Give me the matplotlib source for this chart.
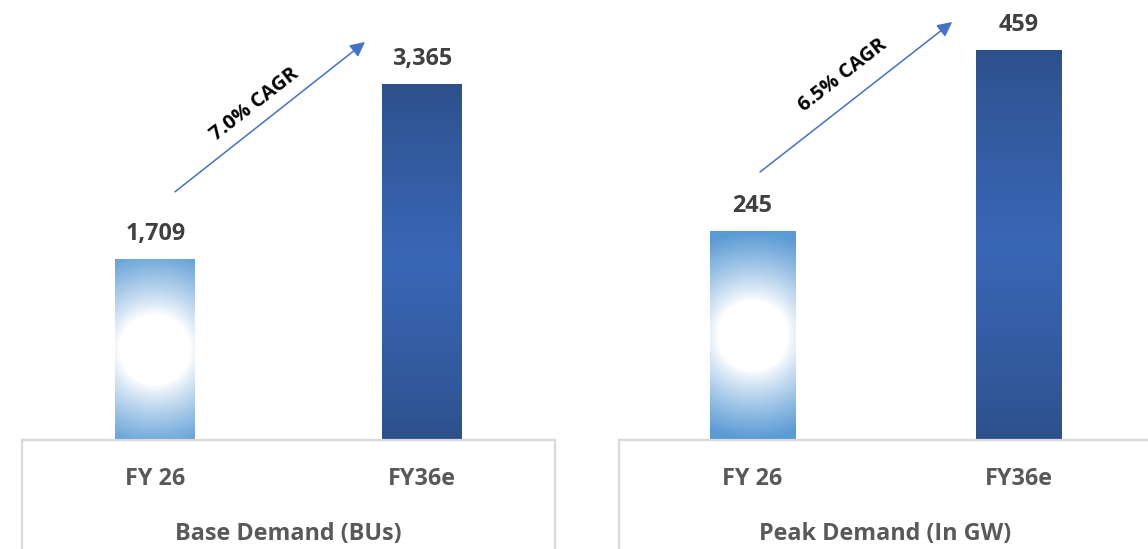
import numpy as np
import matplotlib
matplotlib.use("Agg")
import matplotlib.pyplot as plt
from matplotlib.lines import Line2D
from matplotlib.colors import to_rgb

plt.rcParams['font.family'] = ['Open Sans', 'DejaVu Sans']

categories = ["FY 26", "FY36e"]
base_demand = [1709, 3365]
base_labels = ["1,709", "3,365"]
peak_demand = [245, 459]
peak_labels = ["245", "459"]
titles = ["Base Demand (BUs)", "Peak Demand (In GW)"]
cagr = ["7.0% CAGR", "6.5% CAGR"]

W, H = 1148, 549
fig = plt.figure(figsize=(W / 100, H / 100), dpi=100)

def fx(px):
    return px / W

def fy(py):
    return (H - py) / H

BLUE_LIGHT = np.array(to_rgb("#5B9BD5"))
WHITE = np.array([1.0, 1.0, 1.0])
DARK_EDGE = np.array(to_rgb("#2C5089"))
DARK_MID = np.array(to_rgb("#3966B6"))
FS = 16.8


def radial_img(wpx, hpx):
    wpx, hpx = int(max(wpx, 2)), int(max(hpx, 2))
    yy, xx = np.mgrid[0:hpx, 0:wpx]
    cx, cy = (wpx - 1) / 2, (hpx - 1) / 2
    r = np.hypot(xx - cx, yy - cy)
    t = np.clip((r - 35) / 68.0, 0, 1) ** 0.85
    img = WHITE[None, None, :] * (1 - t[..., None]) + BLUE_LIGHT[None, None, :] * t[..., None]
    return img


def linear_img(hpx):
    hpx = int(max(hpx, 2))
    s = np.linspace(0, 1, hpx)
    t = 1 - np.abs(s - 0.5) * 2
    t = t ** 0.8
    col = DARK_EDGE[None, :] * (1 - t[:, None]) + DARK_MID[None, :] * t[:, None]
    return np.repeat(col[:, None, :], 4, axis=1)


def panel(left_px, values, labels, ytop, width, title, cagr_txt, arrow_xy, text_xy):
    right_px = left_px + 533
    ax = fig.add_axes([fx(left_px), fy(440), (right_px - left_px) / W, 440 / H])
    ax.set_xlim(-0.5, 1.5)
    ax.set_ylim(0, ytop)
    for s in ax.spines.values():
        s.set_visible(False)
    ax.set_yticks([])
    ax.set_xticks(range(len(categories)))
    ax.set_xticklabels(categories, fontsize=FS, fontweight='bold', color='#595959')
    ax.tick_params(axis='x', length=0, pad=19.5)
    ax.set_xlabel(title, fontsize=FS, fontweight='bold', color='#595959', labelpad=22.5)

    bars = ax.bar(range(len(values)), values, width=width, color='none', edgecolor='none')
    fig.canvas.draw()
    for i, b in enumerate(bars):
        x0, y0 = b.get_x(), b.get_y()
        x1, y1 = x0 + b.get_width(), y0 + b.get_height()
        p0 = ax.transData.transform((x0, y0))
        p1 = ax.transData.transform((x1, y1))
        wpx, hpx = abs(p1[0] - p0[0]), abs(p1[1] - p0[1])
        img = radial_img(wpx, hpx) if i == 0 else linear_img(hpx)
        ax.imshow(img, extent=(x0, x1, y0, y1), aspect='auto', interpolation='bilinear', zorder=2)
        ax.annotate(labels[i], xy=(b.get_x() + b.get_width() / 2, y1),
                    xytext=(0, 14), textcoords='offset points',
                    ha='center', va='baseline', fontsize=FS, fontweight='bold', color='#404040')
    ax.set_xlim(-0.5, 1.5)
    ax.set_ylim(0, ytop)

    (sx, sy), (ex, ey) = arrow_xy
    ax.annotate("", xy=(ex, ey), xytext=(sx, sy), xycoords='axes fraction',
                textcoords='axes fraction',
                arrowprops=dict(arrowstyle='-|>', color='#4472C4', lw=1.1,
                                mutation_scale=22, shrinkA=0, shrinkB=0))
    ax.text(text_xy[0], text_xy[1], cagr_txt, transform=ax.transAxes, rotation=38,
            rotation_mode='anchor', ha='center', va='center', fontsize=14.5,
            fontweight='bold', color='black')

    gray = '#D9D9D9'
    for xs, ys in [((left_px, right_px), (440, 440)),
                   ((left_px, left_px), (440, 549)),
                   ((right_px, right_px), (440, 549))]:
        fig.add_artist(Line2D([fx(xs[0]), fx(xs[1])], [fy(ys[0]), fy(ys[1])],
                              color=gray, lw=1.6, transform=fig.transFigure))
    return ax


panel(22, base_demand, base_labels, 4160, 0.30, titles[0], cagr[0],
      ((0.287, 0.564), (0.6435, 0.9045)), (0.436, 0.762))
panel(619, peak_demand, peak_labels, 518, 0.32, titles[1], cagr[1],
      ((0.2645, 0.609), (0.625, 0.95)), (0.4195, 0.828))

fig.savefig("out.png", dpi=100)
